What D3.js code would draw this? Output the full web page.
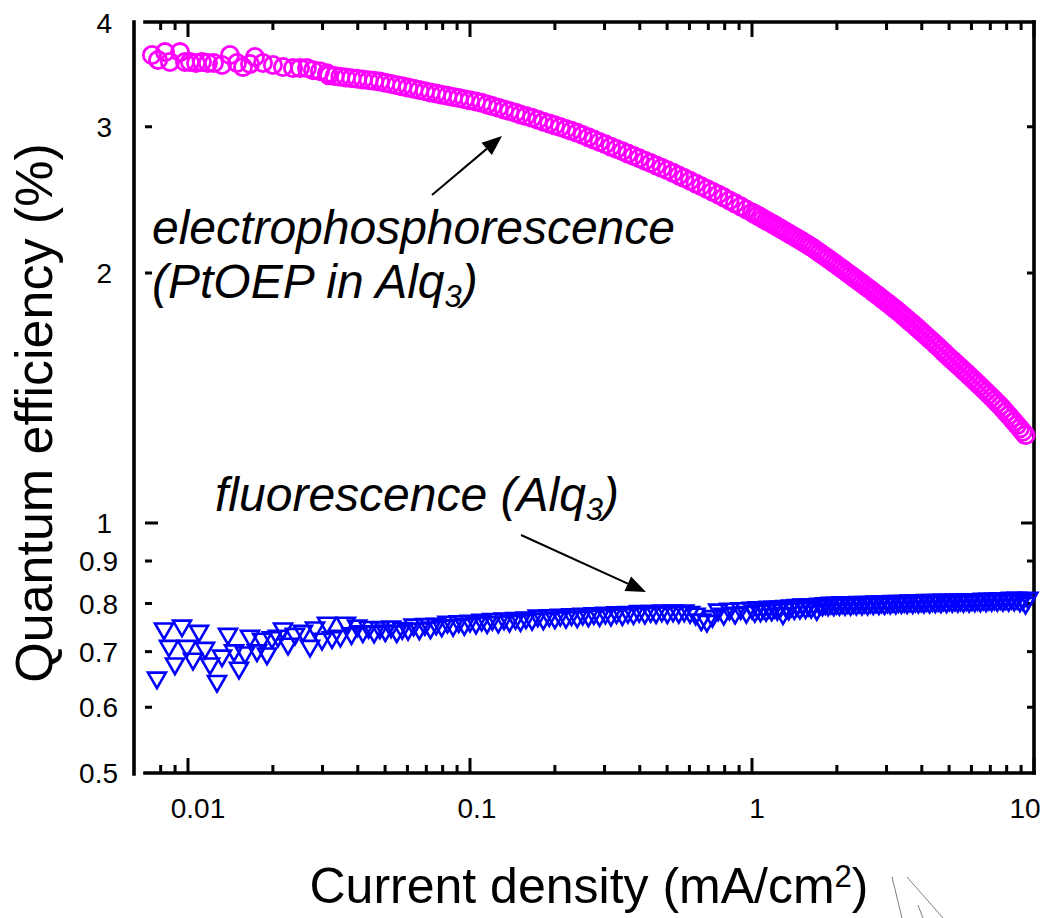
<!DOCTYPE html>
<html>
<head>
<meta charset="utf-8">
<script src="https://cdn.jsdelivr.net/npm/d3@7"></script>
<style>
  body { margin: 0; background: #fff; }
  svg { display: block; }
  text { font-family: "Liberation Sans", Arial, Helvetica, sans-serif; fill: #000; }
</style>
</head>
<body>
<svg id="chart" width="1050" height="918"></svg>
<script>
// PtOEP-doped Alq3 device: current density (mA/cm^2) and external quantum efficiency (%)
const currentPtOEP = [
  0.00745,0.00783,0.00829,0.00863,0.00937,0.00976,0.01016,0.01068,0.01121,0.01177,
  0.01236,0.01320,0.01409,0.01492,0.01567,0.01659,0.01728,0.01845,0.02001,0.02172,
  0.02357,0.02496,0.02642,0.02775,0.02938,0.03111,
  0.0316,0.0331,0.0347,0.0363,0.0380,0.0398,0.0417,0.0437,0.0457,0.0479,
  0.0501,0.0525,0.0550,0.0575,0.0603,0.0631,0.0661,0.0692,0.0724,0.0759,
  0.0794,0.0832,0.0871,0.0912,0.0955,
  0.100,0.105,0.110,0.115,0.120,0.126,0.132,0.138,0.145,0.151,
  0.158,0.166,0.174,0.182,0.191,0.200,0.209,0.219,0.229,0.240,
  0.251,0.263,0.275,0.288,0.302,0.316,0.331,0.347,0.363,0.380,
  0.398,0.417,0.437,0.457,0.479,0.501,0.525,0.550,0.575,0.603,
  0.631,0.661,0.692,0.724,0.759,0.794,0.832,0.871,0.912,0.955,
  1.000,1.023,1.047,1.072,1.096,1.122,1.148,1.175,1.202,1.230,
  1.259,1.288,1.318,1.349,1.380,1.413,1.445,1.479,1.514,1.549,
  1.585,1.622,1.660,1.698,1.738,1.778,1.820,1.862,1.905,1.950,
  1.995,2.042,2.089,2.138,2.188,2.239,2.291,2.344,2.399,2.455,
  2.512,2.570,2.630,2.692,2.754,2.818,2.884,2.951,3.020,3.090,
  3.162,3.236,3.311,3.388,3.467,3.548,3.631,3.715,3.802,3.890,
  3.981,4.074,4.169,4.266,4.365,4.467,4.571,4.677,4.786,4.898,
  5.012,5.129,5.248,5.370,5.495,5.623,5.754,5.888,6.026,6.166,
  6.310,6.457,6.607,6.761,6.918,7.079,7.244,7.413,7.586,7.762,
  7.943,8.128,8.318,8.511,8.710,8.913,9.120,9.333
];
const eqePtOEP = [
  3.66,3.61,3.69,3.59,3.69,3.59,3.59,3.58,3.59,3.58,
  3.58,3.56,3.66,3.58,3.54,3.57,3.64,3.58,3.56,3.54,
  3.53,3.53,3.53,3.51,3.50,3.48,
  3.460,3.453,3.447,3.440,3.433,3.427,3.420,3.413,3.407,3.400,
  3.389,3.378,3.367,3.356,3.344,3.333,3.322,3.311,3.300,3.290,
  3.279,3.269,3.259,3.249,3.238,
  3.228,3.218,3.206,3.192,3.177,3.163,3.148,3.133,3.119,3.104,
  3.090,3.075,3.059,3.043,3.028,3.012,2.997,2.981,2.966,2.950,
  2.932,2.913,2.895,2.876,2.858,2.839,2.821,2.803,2.785,2.767,
  2.749,2.731,2.713,2.695,2.677,2.659,2.640,2.621,2.602,2.583,
  2.564,2.544,2.525,2.506,2.487,2.467,2.446,2.426,2.406,2.385,
  2.365,2.355,2.345,2.335,2.324,2.314,2.304,2.294,2.284,2.273,
  2.263,2.253,2.243,2.232,2.222,2.212,2.202,2.192,2.181,2.171,
  2.161,2.150,2.139,2.127,2.115,2.104,2.092,2.081,2.069,2.057,
  2.046,2.034,2.023,2.011,1.999,1.988,1.976,1.965,1.954,1.943,
  1.931,1.920,1.909,1.897,1.886,1.875,1.863,1.852,1.841,1.830,
  1.818,1.807,1.796,1.784,1.772,1.760,1.748,1.737,1.725,1.713,
  1.701,1.689,1.677,1.665,1.654,1.642,1.630,1.618,1.606,1.594,
  1.582,1.571,1.560,1.549,1.538,1.527,1.516,1.505,1.494,1.483,
  1.472,1.461,1.450,1.439,1.428,1.417,1.406,1.395,1.384,1.372,
  1.360,1.348,1.336,1.324,1.312,1.300,1.288,1.276
];

// Undoped Alq3 device: current density (mA/cm^2) and external quantum efficiency (%)
const currentAlq3 = [
  0.00776,0.00822,0.00856,0.00899,0.00952,0.00992,0.01042,0.01094,0.01149,0.01197,
  0.01267,0.01320,0.01386,0.01456,0.01516,0.01593,0.01659,0.01757,0.01830,0.01906,
  0.01986,0.02085,0.02172,0.02263,0.02395,0.02557,0.02708,0.02821,0.02987,0.03111,
  0.03241,
  0.0347,0.0363,0.0380,0.0398,0.0417,0.0437,0.0457,0.0479,0.0501,0.0525,
  0.0550,0.0575,0.0603,0.0631,0.0661,0.0692,0.0724,0.0759,0.0794,0.0832,
  0.0871,0.0912,0.0955,
  0.100,0.105,0.110,0.115,0.120,0.126,0.132,0.138,0.145,0.151,
  0.158,0.166,0.174,0.182,0.191,0.200,0.209,0.219,0.229,0.240,
  0.251,0.263,0.275,0.288,0.302,0.316,0.331,0.347,0.363,0.380,
  0.398,0.417,0.437,0.457,0.479,0.501,0.525,0.550,0.575,0.603,
  0.631,0.661,0.692,0.724,0.759,0.794,0.832,0.871,0.912,0.955,
  1.000,1.023,1.047,1.072,1.096,1.122,1.148,1.175,1.202,1.230,
  1.259,1.288,1.318,1.349,1.380,1.413,1.445,1.479,1.514,1.549,
  1.585,1.622,1.660,1.698,1.738,1.778,1.820,1.862,1.905,1.950,
  1.995,2.042,2.089,2.138,2.188,2.239,2.291,2.344,2.399,2.455,
  2.512,2.570,2.630,2.692,2.754,2.818,2.884,2.951,3.020,3.090,
  3.162,3.236,3.311,3.388,3.467,3.548,3.631,3.715,3.802,3.890,
  3.981,4.074,4.169,4.266,4.365,4.467,4.571,4.677,4.786,4.898,
  5.012,5.129,5.248,5.370,5.495,5.623,5.754,5.888,6.026,6.166,
  6.310,6.457,6.607,6.761,6.918,7.079,7.244,7.413,7.586,7.762,
  7.943,8.128,8.318,8.511,8.710,8.913,9.120,9.333,9.550
];
const eqeAlq3 = [
  0.651,0.746,0.711,0.677,0.752,0.711,0.686,0.741,0.707,0.677,
  0.645,0.692,0.735,0.702,0.669,0.698,0.731,0.702,0.725,0.696,
  0.728,0.731,0.746,0.715,0.735,0.741,0.711,0.748,0.725,0.758,
  0.728,
  0.731,0.758,0.736,0.752,0.740,0.749,0.739,0.748,0.742,0.750,
  0.740,0.747,0.745,0.754,0.746,0.755,0.748,0.756,0.752,0.760,
  0.753,0.761,0.755,
  0.762,0.758,0.764,0.759,0.766,0.760,0.767,0.762,0.768,0.763,
  0.769,0.766,0.773,0.767,0.774,0.769,0.775,0.770,0.776,0.771,
  0.777,0.773,0.778,0.774,0.779,0.775,0.780,0.776,0.781,0.778,
  0.783,0.779,0.783,0.780,0.784,0.780,0.784,0.781,0.784,0.781,
  0.777,0.765,0.762,0.772,0.786,0.777,0.788,0.779,0.789,0.781,
  0.790,0.783,0.791,0.784,0.791,0.785,0.792,0.786,0.792,0.787,
  0.793,0.778,0.794,0.788,0.795,0.789,0.796,0.790,0.797,0.791,
  0.797,0.792,0.798,0.787,0.799,0.797,0.800,0.797,0.801,0.797,
  0.801,0.798,0.802,0.798,0.802,0.798,0.802,0.799,0.803,0.799,
  0.803,0.799,0.803,0.800,0.804,0.800,0.804,0.800,0.804,0.801,
  0.805,0.801,0.805,0.802,0.805,0.802,0.806,0.802,0.806,0.803,
  0.806,0.803,0.807,0.803,0.807,0.804,0.807,0.804,0.808,0.804,
  0.808,0.805,0.808,0.805,0.808,0.805,0.809,0.805,0.809,0.806,
  0.809,0.806,0.810,0.806,0.810,0.807,0.810,0.807,0.811,0.807,
  0.811,0.807,0.812,0.808,0.812,0.806,0.810,0.801,0.812
];

// Axis ticks and labels
const xMajorTicks = [0.01, 0.1, 1, 10];
const xTickLabels = ["0.01", "0.1", "1", "10"];
const yTicks = [0.6, 0.7, 0.8, 0.9, 1, 2, 3];
const yMajorTicks = [1];
const yLabelValues = [4, 3, 2, 1, 0.9, 0.8, 0.7, 0.6, 0.5];
const yTickLabels = ["4", "3", "2", "1", "0.9", "0.8", "0.7", "0.6", "0.5"];

const svg = d3.select("#chart");
svg.append("rect").attr("width", 1050).attr("height", 918).attr("fill", "#fff");

const x = d3.scaleLog().domain([0.00704, 10]).range([145, 1034]);
const y = d3.scaleLog().domain([0.5, 4]).range([773, 23]);

const yTop = 22, yBot = 773, xLeft = 145, xRight = 1034, leftFrame = 134;

// x ticks: decade (long) and sub-decade (short), pointing inward on bottom and top
const allXTicks = x.ticks().filter(v => x(v) > xLeft + 4);
const isMajor = v => xMajorTicks.some(m => Math.abs(m - v) / m < 1e-6);
const tickG = svg.append("g").attr("stroke", "#000").attr("stroke-width", 3);
allXTicks.forEach(v => {
  const len = isMajor(v) ? 15 : 8;
  tickG.append("line").attr("x1", x(v)).attr("x2", x(v)).attr("y1", yBot).attr("y2", yBot - len);
  tickG.append("line").attr("x1", x(v)).attr("x2", x(v)).attr("y1", yTop).attr("y2", yTop + len);
});
// y ticks on left and right
yTicks.forEach(v => {
  const len = yMajorTicks.includes(v) ? 13 : 7;
  tickG.append("line").attr("x1", xLeft).attr("x2", xLeft + len).attr("y1", y(v)).attr("y2", y(v));
  tickG.append("line").attr("x1", xRight).attr("x2", xRight - len).attr("y1", y(v)).attr("y2", y(v));
});

// frame
const frame = svg.append("g").attr("stroke", "#000").attr("stroke-width", 3.6).attr("stroke-linecap", "square");
frame.append("line").attr("x1", leftFrame).attr("x2", leftFrame).attr("y1", 22).attr("y2", 774);
frame.append("line").attr("x1", xLeft).attr("x2", xRight).attr("y1", yTop).attr("y2", yTop);
frame.append("line").attr("x1", xLeft).attr("x2", xRight).attr("y1", yBot).attr("y2", yBot);
frame.append("line").attr("x1", xRight).attr("x2", xRight).attr("y1", yTop).attr("y2", yBot);

// tick labels
const xLabelNudge = [10, 7, 5, -9];
svg.append("g").selectAll("text").data(xMajorTicks).join("text")
  .attr("x", (d, i) => x(d) + xLabelNudge[i])
  .attr("y", 818)
  .attr("text-anchor", "middle")
  .attr("font-size", 28)
  .text((d, i) => xTickLabels[i]);

svg.append("g").selectAll("text").data(yLabelValues).join("text")
  .attr("x", d => d >= 1 ? 112 : 118)
  .attr("y", d => y(d))
  .attr("dy", "0.36em")
  .attr("text-anchor", "end")
  .attr("font-size", 28)
  .text((d, i) => yTickLabels[i]);

// axis titles
svg.append("text")
  .attr("transform", "translate(52,413) rotate(-90)")
  .attr("text-anchor", "middle")
  .attr("font-size", 52)
  .text("Quantum efficiency (%)");

const xt = svg.append("text")
  .attr("x", 589).attr("y", 903)
  .attr("text-anchor", "middle")
  .attr("font-size", 50);
xt.append("tspan").text("Current density (mA/cm");
xt.append("tspan").attr("dy", -16).attr("font-size", 31).text("2");
xt.append("tspan").attr("dy", 16).text(")");

// data: Alq3 fluorescence (down triangles)
const tri = d3.symbol().type(d3.symbolTriangle).size(140);
svg.append("g")
  .selectAll("path").data(d3.range(currentAlq3.length)).join("path")
  .attr("d", tri)
  .attr("transform", i => `translate(${x(currentAlq3[i])},${y(eqeAlq3[i])}) rotate(180)`)
  .attr("fill", "none")
  .attr("stroke", "#0000ff")
  .attr("stroke-width", 2.6);

// data: PtOEP phosphorescence (open circles)
svg.append("g")
  .selectAll("circle").data(d3.range(currentPtOEP.length)).join("circle")
  .attr("cx", i => x(currentPtOEP[i]))
  .attr("cy", i => y(eqePtOEP[i]))
  .attr("r", 8.6)
  .attr("fill", "none")
  .attr("stroke", "#ff00ff")
  .attr("stroke-width", 2.8);

// annotations
const ann1 = svg.append("text").attr("x", 152).attr("y", 244).attr("font-size", 48).attr("font-style", "italic");
ann1.text("electrophosphorescence");
const ann2 = svg.append("text").attr("x", 152).attr("y", 298).attr("font-size", 48).attr("font-style", "italic");
ann2.append("tspan").text("(PtOEP in Alq");
ann2.append("tspan").attr("dy", 9).attr("font-size", 31).text("3");
ann2.append("tspan").attr("dy", -9).text(")");
const ann3 = svg.append("text").attr("x", 215).attr("y", 511).attr("font-size", 48).attr("font-style", "italic");
ann3.append("tspan").text("fluorescence (Alq");
ann3.append("tspan").attr("dy", 9).attr("font-size", 31).text("3");
ann3.append("tspan").attr("dy", -9).text(")");

// arrows pointing from the labels to the curves
function arrow(x1, y1, x2, y2) {
  const ang = Math.atan2(y2 - y1, x2 - x1);
  const hl = 20, hw = 8;
  const bx = x2 - hl * Math.cos(ang), by = y2 - hl * Math.sin(ang);
  svg.append("line").attr("x1", x1).attr("y1", y1).attr("x2", bx).attr("y2", by)
    .attr("stroke", "#000").attr("stroke-width", 2);
  const px = -Math.sin(ang) * hw, py = Math.cos(ang) * hw;
  svg.append("path")
    .attr("d", `M${x2},${y2}L${bx + px},${by + py}L${bx - px},${by - py}Z`)
    .attr("fill", "#000");
}
arrow(432, 195, 502, 136);
arrow(521, 535, 646, 592);

// faint pen strokes near the lower right corner
const marks = svg.append("g").attr("stroke", "#808080").attr("stroke-width", 1).attr("fill", "none");
marks.append("line").attr("x1", 892).attr("y1", 877).attr("x2", 902).attr("y2", 918);
marks.append("line").attr("x1", 907).attr("y1", 877).attr("x2", 943).attr("y2", 918);
marks.append("line").attr("x1", 918).attr("y1", 905).attr("x2", 923).attr("y2", 918);
</script>
</body>
</html>
